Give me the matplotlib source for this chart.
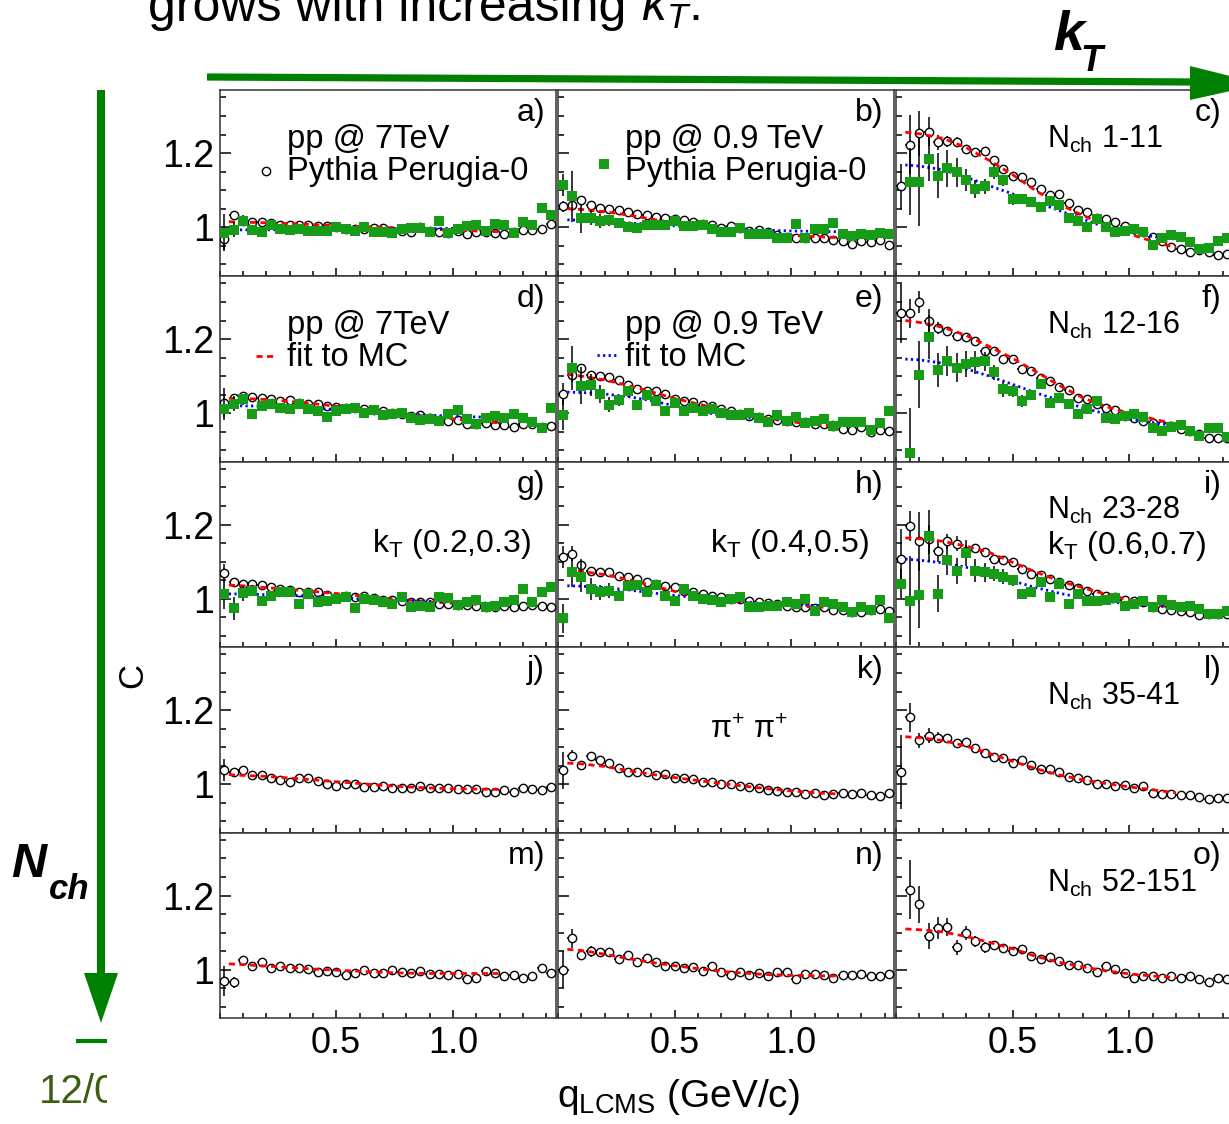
import matplotlib.pyplot as plt
import numpy as np
from matplotlib.ticker import FixedLocator, MultipleLocator, FuncFormatter, NullFormatter
from matplotlib.transforms import Bbox

plt.rcParams['font.family'] = ['Liberation Sans', 'DejaVu Sans']
plt.rcParams['mathtext.fontset'] = 'custom'
plt.rcParams['mathtext.rm'] = 'Liberation Sans'
plt.rcParams['mathtext.it'] = 'Liberation Sans:italic'
plt.rcParams['mathtext.bf'] = 'Liberation Sans:bold'

W, H = 1229, 1124
nan = np.nan

# q_LCMS bin centres (GeV/c) and the grid the fit curves are sampled on
q = np.round(np.arange(0.02, 1.43, 0.04), 2)
fit_q = [0.04, 0.1, 0.2, 0.3, 0.4, 0.5, 0.6, 0.7, 0.8, 0.9, 1.0, 1.1, 1.2]

# ---- 7 TeV Pythia (open circles) ----
c7_a = [0.968, 1.032, 1.018, 1.015, 1.014, 1.012, 1.006, 1.006, 1.005, 1.005, 1.004, 1.004,
        1.0, 0.996, 0.995, 0.995, 0.997, 0.998, 0.991, 0.991, 0.987, 1.0, 0.991, 0.987,
        0.984, 0.989, 0.982, 0.986, 0.987, 0.985, 0.982, 0.986, 0.993, 0.993, 0.995, 1.009]
c7_b = [1.056, 1.059, 1.074, 1.06, 1.053, 1.05, 1.046, 1.041, 1.035, 1.032, 1.028, 1.026,
        1.022, 1.02, 1.015, 1.008, 1.006, 0.999, 1.003, 0.997, 0.99, 0.992, 0.986, 0.979,
        0.973, 0.972, 0.972, 0.972, 0.97, 0.966, 0.963, 0.956, 0.963, 0.959, 0.966, 0.952]
c7_c = [1.11, 1.223, 1.253, 1.258, 1.229, 1.232, 1.231, 1.211, 1.202, 1.205, 1.182, 1.157,
        1.139, 1.135, 1.121, 1.103, 1.088, 1.089, 1.065, 1.046, 1.04, 1.026, 1.022, 1.013,
        1.004, 0.995, 0.986, 0.975, 0.963, 0.948, 0.941, 0.933, 0.939, 0.933, 0.924, 0.927]
c7_d = [1.029, 1.04, 1.047, 1.045, 1.04, 1.038, 1.033, 1.035, 1.029, 1.024, 1.026, 1.02,
        1.017, 1.015, 1.015, 1.011, 1.008, 1.005, 1.002, 0.999, 0.993, 0.995, 0.988, 0.981,
        0.979, 0.981, 0.97, 0.972, 0.975, 0.968, 0.968, 0.963, 0.97, 0.972, 0.963, 0.966]
c7_e = [1.052, 1.104, 1.122, 1.104, 1.1, 1.097, 1.091, 1.077, 1.066, 1.061, 1.059, 1.052,
        1.039, 1.032, 1.03, 1.023, 1.019, 1.012, 1.005, 0.998, 0.992, 0.989, 0.985, 0.983,
        0.98, 0.976, 0.976, 0.971, 0.971, 0.967, 0.958, 0.956, 0.962, 0.949, 0.956, 0.953]
c7_f = [1.269, 1.269, 1.299, 1.25, 1.23, 1.223, 1.209, 1.206, 1.195, 1.167, 1.167, 1.146,
        1.146, 1.119, 1.113, 1.096, 1.087, 1.071, 1.062, 1.042, 1.038, 1.024, 1.015, 1.008,
        0.993, 0.988, 0.979, 0.975, 0.968, 0.966, 0.957, 0.952, 0.943, 0.934, 0.934, 0.934]
c7_g = [1.069, 1.046, 1.041, 1.04, 1.037, 1.033, 1.026, 1.024, 1.019, 1.017, 1.019, 1.01,
        1.006, 1.008, 1.004, 1.008, 1.001, 0.997, 0.997, 0.995, 0.992, 0.992, 0.99, 0.986,
        0.986, 0.983, 0.983, 0.981, 0.979, 0.979, 0.981, 0.979, 0.981, 0.983, 0.981, 0.979]
c7_h = [1.112, 1.121, 1.091, 1.076, 1.073, 1.073, 1.062, 1.06, 1.053, 1.046, 1.04, 1.035,
        1.033, 1.022, 1.017, 1.013, 1.008, 1.004, 0.999, 0.999, 0.995, 0.99, 0.988, 0.986,
        0.981, 0.979, 0.977, 0.974, 0.977, 0.97, 0.97, 0.965, 0.965, 0.97, 0.972, 0.968]
c7_i = [1.107, 1.197, 1.155, 1.16, 1.128, 1.155, 1.148, 1.13, 1.137, 1.125, 1.107, 1.105,
        1.098, 1.08, 1.067, 1.065, 1.053, 1.044, 1.038, 1.029, 1.02, 1.013, 1.008, 1.004,
        0.996, 0.995, 0.99, 0.977, 0.972, 0.969, 0.966, 0.963, 0.957, 0.959, 0.959, 0.96]
c7_j = [1.038, 1.034, 1.038, 1.025, 1.025, 1.018, 1.011, 1.005, 1.016, 1.016, 1.009, 1.002,
        0.995, 1.0, 1.0, 0.993, 0.993, 0.995, 0.991, 0.991, 0.989, 0.995, 0.989, 0.989,
        0.991, 0.986, 0.986, 0.986, 0.98, 0.98, 0.984, 0.98, 0.991, 0.986, 0.984, 0.993]
c7_k = [1.038, 1.077, 1.052, 1.077, 1.065, 1.056, 1.043, 1.034, 1.034, 1.032, 1.025, 1.027,
        1.018, 1.016, 1.014, 1.007, 1.007, 1.002, 1.0, 0.995, 0.993, 0.991, 0.984, 0.982,
        0.98, 0.98, 0.973, 0.977, 0.971, 0.973, 0.977, 0.973, 0.977, 0.971, 0.968, 0.977]
c7_l = [1.032, 1.18, 1.119, 1.131, 1.126, 1.126, 1.11, 1.113, 1.097, 1.083, 1.074, 1.07,
        1.056, 1.065, 1.052, 1.041, 1.041, 1.032, 1.02, 1.018, 1.011, 1.002, 1.0, 0.995,
        0.998, 0.989, 0.995, 0.977, 0.973, 0.975, 0.971, 0.971, 0.966, 0.959, 0.964, 0.964]
c7_m = [0.97, 0.966, 1.026, 1.011, 1.02, 1.006, 1.011, 1.005, 1.005, 1.002, 0.994, 0.996,
        0.994, 0.987, 0.991, 1.0, 0.991, 0.991, 1.0, 0.994, 0.991, 0.998, 0.989, 0.989,
        0.985, 0.989, 0.975, 0.978, 0.996, 0.991, 0.982, 0.987, 0.978, 0.982, 1.005, 0.991]
c7_n = [1.0, 1.085, 1.04, 1.05, 1.047, 1.047, 1.029, 1.041, 1.02, 1.032, 1.02, 1.011,
        1.011, 1.005, 1.007, 0.998, 1.009, 0.993, 0.986, 0.993, 0.986, 0.991, 0.984, 0.993,
        0.993, 0.975, 0.989, 0.989, 0.986, 0.977, 0.986, 0.986, 0.989, 0.984, 0.984, 0.989]
c7_o = [nan, 1.216, 1.176, 1.09, 1.113, 1.115, 1.061, 1.099, 1.077, 1.061, 1.068, 1.059,
        1.05, 1.056, 1.038, 1.029, 1.034, 1.023, 1.014, 1.014, 1.005, 0.995, 1.009, 1.002,
        0.991, 0.977, 0.984, 0.982, 0.977, 0.984, 0.977, 0.982, 0.975, 0.966, 0.977, 0.975]

# ---- 0.9 TeV Pythia (green squares), rows 1-3 only ----
c09_a = [0.985, 0.993, 1.018, 0.993, 0.988, 1.005, 0.996, 0.993, 0.996, 0.991, 0.991, 0.991,
         1.002, 0.995, 0.991, 1.0, 0.988, 0.988, 0.985, 0.996, 0.999, 0.998, 0.988, 1.017,
         0.985, 0.996, 1.004, 1.005, 0.991, 1.009, 1.006, 0.984, 1.014, 1.005, 1.052, 1.033]
c09_b = [1.113, 1.083, 1.024, 1.026, 1.017, 1.019, 1.012, 1.002, 0.997, 1.006, 1.006, 1.006,
         1.017, 1.003, 1.003, 1.006, 0.995, 0.988, 0.986, 0.999, 0.981, 0.981, 0.983, 0.97,
         0.97, 1.008, 0.97, 0.994, 0.994, 1.012, 0.983, 0.977, 0.983, 0.979, 0.985, 0.983]
c09_c = [nan, 1.123, 1.123, 1.184, 1.139, 1.159, 1.148, 1.127, 1.103, 1.11, 1.15, 1.127,
         1.076, 1.076, 1.069, 1.055, 1.071, 1.06, 1.026, 1.017, 1.001, 1.023, 1.002, 0.986,
         0.99, 0.995, 0.987, 0.952, 0.971, 0.98, 0.975, 0.96, 0.942, 0.945, 0.963, 0.97]
c09_d = [1.011, 1.026, 1.038, 0.999, 1.02, 1.026, 1.015, 1.012, 1.024, 1.012, 1.006, 0.991,
         1.006, 1.011, 1.014, 1.002, 1.008, 0.995, 0.997, 1.002, 0.988, 0.981, 0.984, 0.979,
         0.997, 1.008, 0.984, 0.97, 0.988, 0.993, 0.988, 0.997, 0.986, 0.977, 0.961, 1.015]
c09_e = [0.995, 1.122, 1.074, 1.077, 1.052, 1.023, 1.035, 1.059, 1.023, 1.05, 1.032, 1.005,
         1.028, 1.005, 1.014, 1.005, 1.012, 1.001, 0.994, 0.995, 1.001, 0.986, 0.977, 0.994,
         0.98, 0.989, 0.974, 0.98, 0.985, 0.965, 0.976, 0.977, 0.977, 0.956, 0.974, 1.005]
c09_f = [nan, 0.894, 1.104, 1.205, 1.117, 1.141, 1.123, 1.134, 1.137, 1.14, 1.11, 1.065,
         1.06, 1.033, 1.05, 1.078, 1.029, 1.042, 1.026, 0.997, 1.011, 1.033, 0.988, 0.984,
         0.993, 0.997, 0.99, 0.961, 0.952, 0.963, 0.968, 0.952, 0.939, 0.959, 0.959, 0.936]
c09_g = [1.013, 0.974, 1.015, 1.022, 0.995, 1.008, 1.017, 1.019, 0.987, 1.013, 0.992, 0.995,
         0.999, 1.006, 0.974, 0.999, 0.997, 0.99, 0.986, 1.006, 0.979, 0.981, 0.979, 1.004,
         1.001, 0.983, 0.99, 0.996, 0.977, 0.981, 0.992, 0.997, 1.026, 0.992, 1.017, 1.031]
c09_h = [0.947, 1.071, 1.058, 1.026, 1.017, 1.022, 1.008, 1.035, 1.037, 1.017, 1.037, 1.008,
         0.995, 1.026, 1.008, 0.999, 0.997, 0.99, 0.999, 1.004, 0.979, 0.977, 0.981, 0.981,
         0.99, 0.986, 0.999, 0.968, 0.99, 0.986, 0.979, 0.965, 0.979, 0.97, 0.997, 0.947]
c09_i = [1.041, 0.995, 1.011, 1.168, 1.013, 1.105, 1.076, 1.123, 1.076, 1.071, 1.068, 1.059,
         1.05, 1.014, 1.017, 1.044, 1.005, 1.041, 0.987, 1.014, 0.993, 0.993, 0.996, 1.002,
         0.981, 0.987, 0.995, 0.978, 0.996, 0.984, 0.977, 0.981, 0.972, 0.96, 0.959, 0.966]

# statistical errors of the lowest bins; the remaining bins share err_base
err_base = 0.004
e7_first = {
    'a': [0.03, 0.01, 0.008], 'b': [0.015, 0.012, 0.008],
    'c': [0.06, 0.08, 0.06, 0.04, 0.02, 0.015, 0.012, 0.01], 'd': [0.04, 0.01, 0.008],
    'e': [0.03, 0.02, 0.01], 'f': [0.08, 0.04, 0.03, 0.03, 0.015, 0.01],
    'g': [0.025, 0.01, 0.008], 'h': [0.03, 0.02, 0.015, 0.01],
    'i': [0.08, 0.04, 0.08, 0.04, 0.03, 0.02, 0.02, 0.015, 0.01], 'j': [0.03, 0.01, 0.008],
    'k': [0.05, 0.015, 0.01, 0.008], 'l': [0.1, 0.04, 0.02, 0.02, 0.015, 0.01],
    'm': [0.04, 0.015, 0.01], 'n': [0.05, 0.025, 0.015, 0.015, 0.01],
    'o': [0.0, 0.08, 0.05, 0.035, 0.03, 0.025, 0.02, 0.02, 0.015, 0.015, 0.01],
}
e09_first = {
    'a': [0.05, 0.02, 0.015, 0.01, 0.01], 'b': [0.03, 0.07, 0.04, 0.02, 0.02, 0.015, 0.01],
    'c': [0.0, 0.09, 0.12, 0.06, 0.06, 0.05, 0.04, 0.03, 0.025, 0.02, 0.02, 0.015, 0.015],
    'd': [0.03, 0.02, 0.015, 0.01], 'e': [0.04, 0.06, 0.05, 0.03, 0.025, 0.02, 0.015, 0.015],
    'f': [0.0, 0.12, 0.09, 0.06, 0.045, 0.04, 0.04, 0.035, 0.03, 0.025, 0.02, 0.02, 0.015, 0.015],
    'g': [0.04, 0.03, 0.02, 0.015, 0.01], 'h': [0.04, 0.04, 0.04, 0.03, 0.02, 0.02, 0.015, 0.015],
    'i': [0.04, 0.12, 0.09, 0.07, 0.05, 0.04, 0.035, 0.035, 0.03, 0.025, 0.02, 0.02, 0.015],
}

# ---- fits to MC ----
fit7_a = [1.015, 1.014, 1.012, 1.01, 1.007, 1.005, 1.002, 1.0, 0.997, 0.995, 0.992, 0.99, 0.988]
fit7_b = [1.05, 1.048, 1.042, 1.033, 1.022, 1.012, 1.003, 0.995, 0.988, 0.982, 0.978, 0.975, 0.972]
fit7_c = [1.256, 1.252, 1.24, 1.215, 1.18, 1.142, 1.098, 1.062, 1.032, 1.005, 0.982, 0.962, 0.945]
fit7_d = [1.04, 1.04, 1.037, 1.032, 1.026, 1.019, 1.012, 1.005, 0.998, 0.991, 0.985, 0.979, 0.974]
fit7_e = [1.105, 1.1, 1.09, 1.075, 1.058, 1.04, 1.025, 1.01, 0.997, 0.986, 0.977, 0.97, 0.965]
fit7_f = [1.25, 1.245, 1.232, 1.21, 1.18, 1.148, 1.112, 1.075, 1.042, 1.018, 1.0, 0.985, 0.97]
fit7_g = [1.037, 1.035, 1.03, 1.025, 1.02, 1.014, 1.008, 1.002, 0.997, 0.992, 0.988, 0.985, 0.983]
fit7_h = [1.077, 1.074, 1.065, 1.052, 1.036, 1.02, 1.007, 0.998, 0.99, 0.985, 0.981, 0.978, 0.976]
fit7_i = [1.164, 1.162, 1.155, 1.142, 1.125, 1.098, 1.072, 1.048, 1.03, 1.012, 0.997, 0.985, 0.976]
fit7_j = [1.026, 1.024, 1.021, 1.017, 1.012, 1.007, 1.002, 0.997, 0.993, 0.99, 0.988, 0.987, 0.986]
fit7_k = [1.057, 1.055, 1.048, 1.037, 1.027, 1.018, 1.01, 1.002, 0.995, 0.988, 0.982, 0.977, 0.974]
fit7_l = [1.128, 1.126, 1.118, 1.103, 1.083, 1.062, 1.042, 1.025, 1.012, 1.002, 0.993, 0.985, 0.977]
fit7_m = [1.016, 1.014, 1.01, 1.006, 1.002, 0.999, 0.996, 0.993, 0.991, 0.99, 0.99, 0.99, 0.99]
fit7_n = [1.055, 1.052, 1.042, 1.03, 1.02, 1.011, 1.003, 0.996, 0.991, 0.987, 0.985, 0.984, 0.983]
fit7_o = [1.11, 1.108, 1.102, 1.09, 1.074, 1.057, 1.036, 1.02, 1.008, 0.997, 0.989, 0.983, 0.979]

fit09_a = [0.993, 0.993, 0.993, 0.994, 0.994, 0.995, 0.995, 0.996, 0.996, 0.996, 0.997, 0.997, 0.997]
fit09_b = [1.02, 1.019, 1.016, 1.012, 1.008, 1.004, 1.0, 0.997, 0.994, 0.992, 0.99, 0.989, 0.988]
fit09_c = [1.168, 1.165, 1.155, 1.135, 1.112, 1.09, 1.068, 1.045, 1.022, 1.0, 0.985, 0.975, 0.968]
fit09_d = [1.02, 1.02, 1.019, 1.017, 1.014, 1.01, 1.006, 1.002, 0.998, 0.995, 0.992, 0.99, 0.989]
fit09_e = [1.057, 1.056, 1.052, 1.045, 1.034, 1.02, 1.005, 0.995, 0.988, 0.984, 0.981, 0.978, 0.976]
fit09_f = [1.146, 1.144, 1.135, 1.12, 1.1, 1.078, 1.055, 1.035, 1.015, 0.998, 0.985, 0.975, 0.966]
fit09_g = [1.013, 1.013, 1.011, 1.009, 1.006, 1.003, 1.0, 0.998, 0.996, 0.993, 0.991, 0.989, 0.988]
fit09_h = [1.035, 1.034, 1.03, 1.024, 1.016, 1.009, 1.002, 0.996, 0.991, 0.987, 0.984, 0.982, 0.981]
fit09_i = [1.107, 1.104, 1.097, 1.085, 1.068, 1.048, 1.03, 1.015, 1.002, 0.993, 0.986, 0.981, 0.977]

panel_names = ['a', 'b', 'c', 'd', 'e', 'f', 'g', 'h', 'i', 'j', 'k', 'l', 'm', 'n', 'o']
c7 = dict(zip(panel_names, [c7_a, c7_b, c7_c, c7_d, c7_e, c7_f, c7_g, c7_h, c7_i,
                            c7_j, c7_k, c7_l, c7_m, c7_n, c7_o]))
c09 = dict(zip(panel_names[:9], [c09_a, c09_b, c09_c, c09_d, c09_e, c09_f, c09_g, c09_h, c09_i]))
fit7 = dict(zip(panel_names, [fit7_a, fit7_b, fit7_c, fit7_d, fit7_e, fit7_f, fit7_g, fit7_h,
                              fit7_i, fit7_j, fit7_k, fit7_l, fit7_m, fit7_n, fit7_o]))
fit09 = dict(zip(panel_names[:9], [fit09_a, fit09_b, fit09_c, fit09_d, fit09_e, fit09_f,
                                   fit09_g, fit09_h, fit09_i]))

GREEN = '#008000'
MC09 = '#169c16'

fig = plt.figure(figsize=(W / 100, H / 100), dpi=100)

# panel grid in pixels (left edges of columns, top edges of rows)
col_x = [219.5, 558, 896]
row_y = [90, 276, 461.5, 647, 832.5]
pw, ph = 336, 185.5


def full_err(first):
    return np.array(first + [err_base] * (len(q) - len(first)))


def draw_points(ax, vals, err, **kw):
    vals = np.array(vals, dtype=float)
    ok = ~np.isnan(vals)
    ax.errorbar(q[ok], vals[ok], yerr=err[ok], xerr=0.02, ecolor='black',
                elinewidth=1.1, capsize=0, linestyle='none', **kw)


axes = {}
for idx, name in enumerate(panel_names):
    r, c = divmod(idx, 3)
    x0, y0 = col_x[c], row_y[r]
    ax = fig.add_axes([x0 / W, 1 - (y0 + ph) / H, pw / W, ph / H])
    axes[name] = ax
    ax.set_xlim(0, 1.44)
    ax.set_ylim(0.87, 1.37)
    for s in ax.spines.values():
        s.set_linewidth(1.1)
        s.set_color('#333333')

    ax.xaxis.set_major_locator(FixedLocator([0.5, 1.0]))
    ax.xaxis.set_minor_locator(MultipleLocator(0.1))
    ax.yaxis.set_major_locator(MultipleLocator(0.2))
    ax.yaxis.set_minor_locator(MultipleLocator(0.05))
    ax.tick_params(axis='both', which='both', direction='in', top=False, right=False, width=1.1)
    ax.tick_params(axis='y', which='major', length=8, pad=4, labelsize=27)
    ax.tick_params(axis='y', which='minor', length=4.3)
    ax.tick_params(axis='x', which='major', length=5.8, pad=6, labelsize=26)
    ax.tick_params(axis='x', which='minor', length=3.6)
    ax.xaxis.set_major_formatter(FuncFormatter(lambda v, p: f'{v:.1f}'))
    ax.yaxis.set_major_formatter(FuncFormatter(lambda v, p: f'{v:g}'))
    if c != 0:
        ax.yaxis.set_major_formatter(NullFormatter())
    if r != 4:
        ax.xaxis.set_major_formatter(NullFormatter())

    draw_points(ax, c7[name], full_err(e7_first[name]), fmt='o', ms=6, mfc='white',
                mec='black', mew=1.0, zorder=3)
    ax.plot(fit_q, fit7[name], color='red', lw=2.0, ls=(0, (2.2, 1.6)), zorder=4)
    if name in c09:
        ax.plot(fit_q, fit09[name], color='blue', lw=2.0, ls=(0, (0.8, 1.2)), zorder=4)
        draw_points(ax, c09[name], full_err(e09_first[name]), fmt='s', ms=6.8, mfc=MC09,
                    mec=MC09, mew=0, zorder=5)

    ax.text(0.969, 0.955, f'{name})', transform=ax.transAxes, ha='right', va='top', fontsize=23)

# overlay in pixel coordinates for arrows, labels and annotations
ov = fig.add_axes([0, 0, 1, 1], zorder=10)
ov.set_xlim(0, W)
ov.set_ylim(H, 0)
ov.axis('off')

# k_T arrow
ov.plot([207, 1195], [77, 82], color=GREEN, lw=5.2, solid_capstyle='butt')
ov.fill([1190, 1190, 1262], [66, 100, 84], color=GREEN, lw=0)
ov.text(1053, 50, 'k', fontsize=40, fontweight='bold', style='italic', va='baseline')
ov.text(1080, 71, 'T', fontsize=26, fontweight='bold', style='italic', va='baseline')

# N_ch arrow
ov.plot([101, 101], [90, 978], color=GREEN, lw=5.8, solid_capstyle='butt')
ov.fill([84, 118, 101], [973, 973, 1023], color=GREEN, lw=0)
ov.text(11, 877, 'N', fontsize=35, fontweight='bold', style='italic', va='baseline')
ov.text(49, 899, 'ch', fontsize=25, fontweight='bold', style='italic', va='baseline')

# slide footer, partly hidden
ov.plot([76, 107], [1041, 1041], color=GREEN, lw=3, solid_capstyle='butt')
foot = ov.text(39, 1103, '12/05', fontsize=29, color='#3b5e10', va='baseline')
foot.set_clip_box(Bbox.from_extents(0, 0, 107, H))
foot.set_clip_on(True)

# slide title, cut at the top edge
ov.text(148, 21, 'grows with increasing ', fontsize=36, va='baseline')
ov.text(641, 21, '$k_T$.', fontsize=36, va='baseline')

# axis titles
ov.text(133, 676, 'C', fontsize=25, rotation=90, ha='center', va='center')
ov.text(557, 1107, r'$\mathrm{q_{LCMS}}$ (GeV/c)', fontsize=28, va='baseline')

# legends
LEG = 23.5
ov.text(287, 148, 'pp @ 7TeV', fontsize=LEG, va='baseline')
ov.plot([266], [171], 'o', ms=6, mfc='white', mec='black', mew=1.0)
ov.text(287, 180, 'Pythia Perugia-0', fontsize=LEG, va='baseline')
ov.text(625, 148, 'pp @ 0.9 TeV', fontsize=LEG, va='baseline')
ov.plot([604], [164], 's', ms=6.8, mfc=MC09, mec=MC09, mew=0)
ov.text(625, 180, 'Pythia Perugia-0', fontsize=LEG, va='baseline')
ov.text(287, 334, 'pp @ 7TeV', fontsize=LEG, va='baseline')
ov.plot([256, 274], [356, 356], color='red', lw=2.0, ls=(0, (2.2, 1.6)))
ov.text(287, 366, 'fit to MC', fontsize=LEG, va='baseline')
ov.text(625, 334, 'pp @ 0.9 TeV', fontsize=LEG, va='baseline')
ov.plot([597, 619], [355, 355], color='blue', lw=2.0, ls=(0, (0.8, 1.2)))
ov.text(625, 366, 'fit to MC', fontsize=LEG, va='baseline')

# multiplicity and pair-momentum bins
ov.text(1047, 148, r'$\mathrm{N_{ch}}$ 1-11', fontsize=22, va='baseline')
ov.text(1047, 334, r'$\mathrm{N_{ch}}$ 12-16', fontsize=22, va='baseline')
ov.text(1047, 519, r'$\mathrm{N_{ch}}$ 23-28', fontsize=22, va='baseline')
ov.text(1047, 554, r'$\mathrm{k_T}$ (0.6,0.7)', fontsize=23, va='baseline')
ov.text(372, 552, r'$\mathrm{k_T}$ (0.2,0.3)', fontsize=23, va='baseline')
ov.text(710, 552, r'$\mathrm{k_T}$ (0.4,0.5)', fontsize=23, va='baseline')
ov.text(1047, 705, r'$\mathrm{N_{ch}}$ 35-41', fontsize=22, va='baseline')
ov.text(710, 738, r'$\mathrm{\pi^{+}}$ $\mathrm{\pi^{+}}$', fontsize=22, va='baseline')
ov.text(1047, 892, r'$\mathrm{N_{ch}}$ 52-151', fontsize=22, va='baseline')

fig.savefig('out.png', dpi=100)
